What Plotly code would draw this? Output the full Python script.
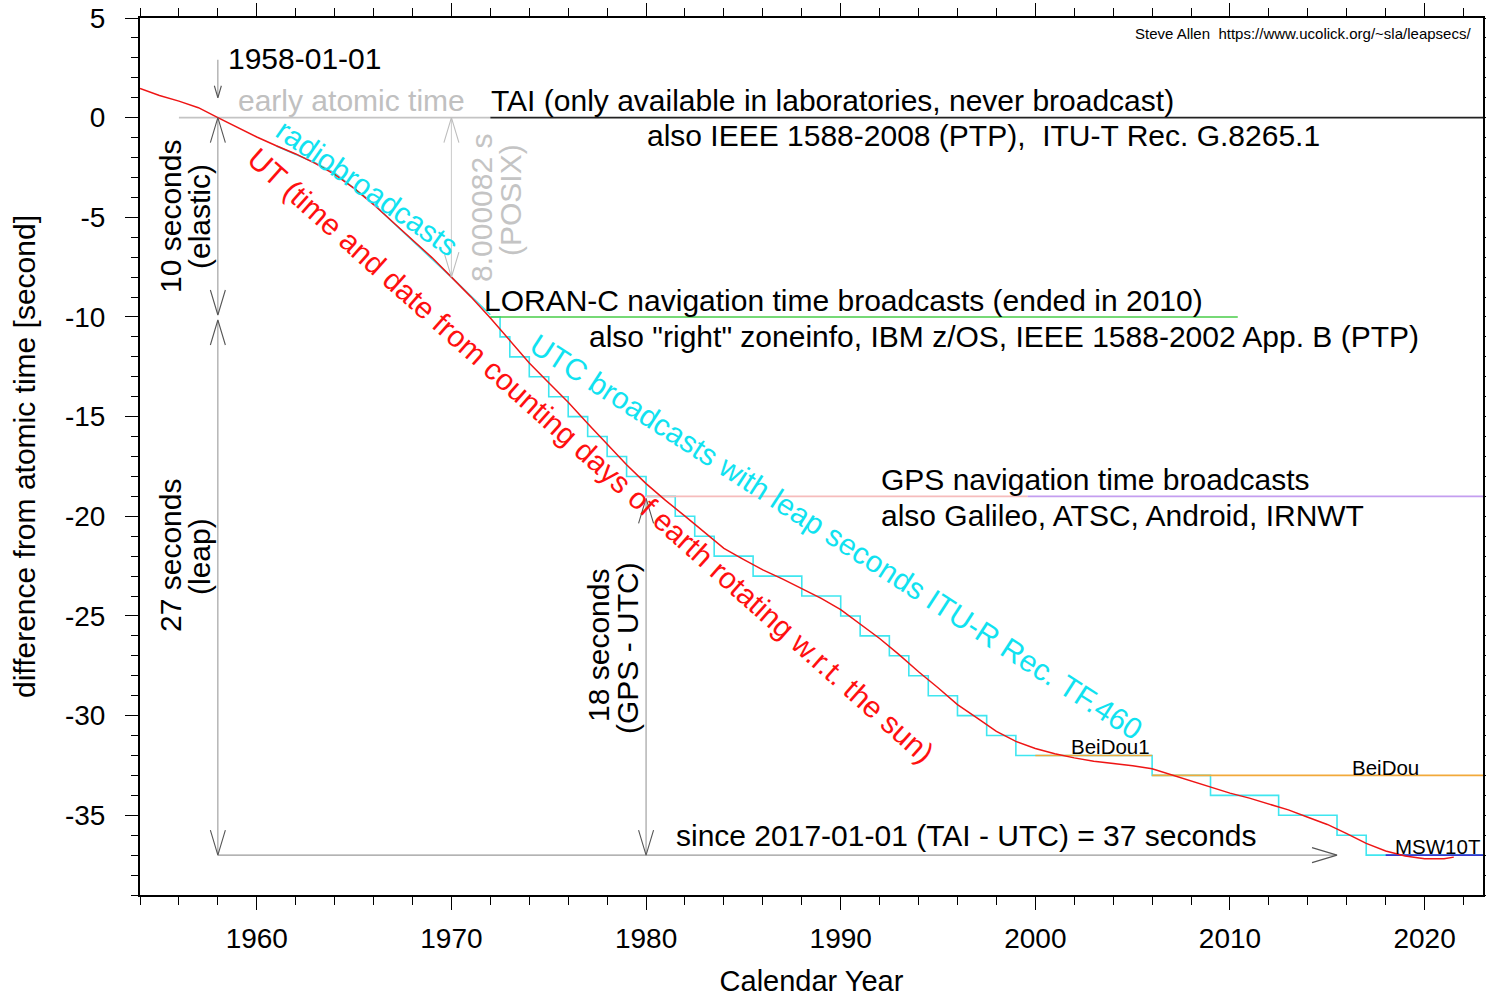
import plotly.graph_objects as go

# ---------------- data ----------------
# UT (earth rotation) minus atomic time, seconds
ut_year = [1954, 1955, 1956, 1957, 1958, 1959, 1960, 1961, 1962, 1963, 1964, 1965,
           1966, 1967, 1968, 1969, 1970, 1971, 1972, 1973, 1974, 1975, 1976, 1977,
           1978, 1979, 1980, 1981, 1982, 1983, 1984, 1985, 1986, 1987, 1988, 1989,
           1990, 1991, 1992, 1993, 1994, 1995, 1996, 1997, 1998, 1999, 2000, 2001,
           2002, 2003, 2004, 2005, 2006, 2007, 2008, 2009, 2010, 2011, 2012, 2013,
           2014, 2015, 2016, 2017, 2018, 2019, 2020, 2021, 2021.5]
ut_value = [1.46, 1.11, 0.83, 0.50, 0.00, -0.50, -0.97, -1.41, -1.82, -2.29, -2.85, -3.55,
            -4.36, -5.25, -6.11, -7.02, -8.00, -8.99, -10.05, -11.19, -12.31, -13.30, -14.28, -15.34,
            -16.35, -17.41, -18.36, -19.20, -19.99, -20.78, -21.61, -22.16, -22.69, -23.14, -23.64, -24.12,
            -24.68, -25.39, -26.13, -26.94, -27.80, -28.60, -29.45, -30.11, -30.79, -31.29, -31.65, -31.91,
            -32.12, -32.29, -32.39, -32.51, -32.67, -32.97, -33.28, -33.60, -33.89, -34.14, -34.42, -34.73,
            -35.10, -35.46, -35.92, -36.41, -36.79, -37.04, -37.18, -37.18, -37.10]

# early UTC (radio broadcasts, rubber seconds)
radio_year = [1961.0, 1962.0, 1963.0, 1964.0, 1965.0, 1966.0, 1967.0, 1968.0, 1969.0, 1970.0, 1971.0, 1972.0]
radio_value = [-1.42, -1.85, -2.26, -2.77, -3.54, -4.31, -5.26, -6.16, -7.05, -8.00, -8.95, -9.89]

# UTC with leap seconds: dates of change and TAI - UTC after the change
leap_year = [1972.0, 1972.5, 1973.0, 1974.0, 1975.0, 1976.0, 1977.0, 1978.0, 1979.0, 1980.0,
             1981.5, 1982.5, 1983.5, 1985.5, 1988.0, 1990.0, 1991.0, 1992.5, 1993.5, 1994.5,
             1996.0, 1997.5, 1999.0, 2006.0, 2009.0, 2012.5, 2015.5, 2017.0, 2023.0]
tai_minus_utc = [10, 11, 12, 13, 14, 15, 16, 17, 18, 19,
                 20, 21, 22, 23, 24, 25, 26, 27, 28, 29,
                 30, 31, 32, 33, 34, 35, 36, 37, 37]

# time scales with constant offset from TAI
scale_name = ["early atomic time", "TAI", "LORAN-C", "GPS", "GPS/Galileo", "BeiDou1", "BeiDou", "MSW10T"]
scale_start = [1956.0, 1972.0, 1972.0, 1980.0, 1999.6, 2000.0, 2006.0, 2018.0]
scale_end = [1972.0, 2023.0, 2010.4, 1999.6, 2023.0, 2006.0, 2023.0, 2023.0]
scale_offset = [0, 0, -10, -19, -19, -32, -33, -37]

# vertical dimension arrows: year, from, to
varrow_year = [1958, 1958, 1958, 1970, 1980]
varrow_from = [2.9, 0, -10.15, 0, -37]
varrow_to = [1.0, -9.9, -37, -8.000082, -19.1]
# horizontal arrow
harrow_from = 1958
harrow_to = 2015.5
harrow_level = -37

x_tick_vals = [1960, 1970, 1980, 1990, 2000, 2010, 2020]
x_tick_labels = ["1960", "1970", "1980", "1990", "2000", "2010", "2020"]
y_tick_vals = [5, 0, -5, -10, -15, -20, -25, -30, -35]
y_tick_labels = ["5", "0", "-5", "-10", "-15", "-20", "-25", "-30", "-35"]

# ---------------- styling ----------------
FONT = "Liberation Sans, Arial, Helvetica, sans-serif"
W, H = 1486, 997
ML, MR, MT, MB = 140, 3, 18, 102
XR = [1954, 2023]
YR = [-39, 5]
PX_X = (W - ML - MR) / (XR[1] - XR[0])
PX_Y = (H - MT - MB) / (YR[1] - YR[0])

scale_color = ["#c4c4c4", "#222222", "#48cc48", "#f6bcbc", "#c49ef0", "#f2a93a", "#f2a93a", "#3434cc"]
RED = "#ee1515"
CYAN = "#3fe6f0"
CYAN_TXT = "#10e2f0"

fig = go.Figure()

fig.add_trace(go.Scatter(x=radio_year, y=radio_value, mode="lines",
                         line=dict(color=CYAN, width=1.6), hoverinfo="skip", name="radio"))
fig.add_trace(go.Scatter(x=leap_year, y=[-v for v in tai_minus_utc], mode="lines",
                         line=dict(color=CYAN, width=1.6, shape="hv"), hoverinfo="skip", name="UTC"))

for name, s, e, o, c in zip(scale_name, scale_start, scale_end, scale_offset, scale_color):
    fig.add_trace(go.Scatter(x=[s, e], y=[o, o], mode="lines", line=dict(color=c, width=1.7),
                             hoverinfo="skip", name=name))

fig.add_trace(go.Scatter(x=ut_year, y=ut_value, mode="lines",
                         line=dict(color=RED, width=1.5), hoverinfo="skip", name="UT"))


def head(xt, yt, ux, uy, L=25, Wd=7.5):
    """chevron at tip (xt,yt) pointing along screen direction (ux,uy) (y down)."""
    bx, by = -ux * L, -uy * L
    px, py = -uy * Wd, ux * Wd
    pts = [(bx + px, by + py), (0, 0), (bx - px, by - py)]
    xs = [xt + p[0] / PX_X for p in pts]
    ys = [yt - p[1] / PX_Y for p in pts]
    return xs, ys


def add_lines(segs, color, width=1.1):
    xs, ys = [], []
    for sx, sy in segs:
        xs += list(sx) + [None]
        ys += list(sy) + [None]
    fig.add_trace(go.Scatter(x=xs, y=ys, mode="lines", line=dict(color=color, width=width),
                             hoverinfo="skip", showlegend=False))


shafts_dark, shafts_light, heads_dark, heads_light = [], [], [], []
for i, (xa, a, b) in enumerate(zip(varrow_year, varrow_from, varrow_to)):
    light = (xa == 1970)
    (shafts_light if light else shafts_dark).append(([xa, xa], [a, b]))
    hd = heads_light if light else heads_dark
    if i == 0:
        hd.append(head(xa, b, 0, 1, L=12, Wd=3.5))
        continue
    d = 1 if b < a else -1
    hd.append(head(xa, b, 0, d))
    hd.append(head(xa, a, 0, -d))
shafts_dark.append(([harrow_from, harrow_to], [harrow_level, harrow_level]))
heads_dark.append(head(harrow_to, harrow_level, 1, 0))

add_lines(shafts_dark, "#9a9a9a", 1.1)
add_lines(shafts_light, "#cfcfcf", 1.1)
add_lines(heads_dark, "#555555", 1.1)
add_lines(heads_light, "#bdbdbd", 1.1)


def X(px):
    return XR[0] + (px - ML) / PX_X


def Y(py):
    return YR[1] - (py - MT) / PX_Y


ann = []


def txt(t, px, py, size=30, color="black", xa="left", angle=0):
    ann.append(dict(text=t, x=X(px), y=Y(py), xref="x", yref="y", showarrow=False,
                    xanchor=xa, yanchor="middle", textangle=angle,
                    font=dict(family=FONT, size=size, color=color)))


txt("1958-01-01", 226, 58)
txt("early atomic time", 236, 100, color="#c0c0c0")
txt("TAI (only available in laboratories, never broadcast)", 489, 100)
txt("also IEEE 1588-2008 (PTP),\u00a0 ITU-T Rec. G.8265.1", 645, 135)
txt("LORAN-C navigation time broadcasts (ended in 2010)", 482, 300)
txt("also \"right\" zoneinfo, IBM z/OS, IEEE 1588-2002 App. B (PTP)", 587, 336)
txt("GPS navigation time broadcasts", 879, 479)
txt("also Galileo, ATSC, Android, IRNWT", 879, 515)
txt("since 2017-01-01 (TAI - UTC) = 37 seconds", 674, 835)
txt("BeiDou1", 1069, 746, size=20.5)
txt("BeiDou", 1350, 767, size=20.5)
txt("MSW10T", 1393, 846, size=20.5)
txt("Steve Allen\u00a0 https://www.ucolick.org/~sla/leapsecs/", 1473, 33, size=15, xa="right")

txt("10 seconds", 170, 217, xa="center", angle=-90)
txt("(elastic)", 199, 217, xa="center", angle=-90)
txt("27 seconds", 170, 556, xa="center", angle=-90)
txt("(leap)", 199, 557, xa="center", angle=-90)
txt("8.000082 s", 481, 208, xa="center", angle=-90, color="#c4c4c4")
txt("(POSIX)", 510, 200, xa="center", angle=-90, color="#c4c4c4")
txt("18 seconds", 598, 646, xa="center", angle=-90)
txt("(GPS - UTC)", 627, 648, xa="center", angle=-90)

txt("radiobroadcasts", 367, 187, xa="center", angle=35, color=CYAN_TXT)
txt("UT (time and date from counting days of earth rotating w.r.t. the sun)", 591, 455,
    xa="center", angle=41.7, color="#ff1010")
txt("UTC broadcasts with leap seconds ITU-R Rec. TF.460", 836, 536, xa="center", angle=32.8,
    color=CYAN_TXT)

fig.update_layout(
    width=W, height=H, margin=dict(l=ML, r=MR, t=MT, b=MB, pad=0, autoexpand=False),
    plot_bgcolor="white", paper_bgcolor="white", showlegend=False,
    font=dict(family=FONT, color="black"),
    annotations=ann,
    xaxis=dict(range=XR, tickmode="array", tickvals=x_tick_vals, ticktext=x_tick_labels,
               ticks="outside", ticklen=13, tickwidth=1, tickcolor="black",
               minor=dict(dtick=2, tick0=1954, ticks="outside", ticklen=8, tickcolor="black"),
               showline=True, linewidth=2, linecolor="black", mirror="allticks",
               showgrid=False, zeroline=False, tickfont=dict(size=28, family=FONT),
               ticklabelstandoff=4, automargin=False,
               title=dict(text="Calendar Year", font=dict(size=29, family=FONT), standoff=22)),
    yaxis=dict(range=YR, tickmode="array", tickvals=y_tick_vals, ticktext=y_tick_labels,
               ticks="outside", ticklen=13, tickwidth=1, tickcolor="black",
               minor=dict(dtick=1, tick0=0, ticks="outside", ticklen=7, tickcolor="black"),
               showline=True, linewidth=2, linecolor="black", mirror="allticks",
               showgrid=False, zeroline=False, tickfont=dict(size=28, family=FONT),
               ticklabelstandoff=14, automargin=False,
               title=dict(text="difference from atomic time [second]", font=dict(size=30, family=FONT),
                          standoff=20)),
)

fig.write_html("out.html", config={"displayModeBar": False},
               post_script="document.body.style.margin='0';document.body.style.overflow='hidden';")
